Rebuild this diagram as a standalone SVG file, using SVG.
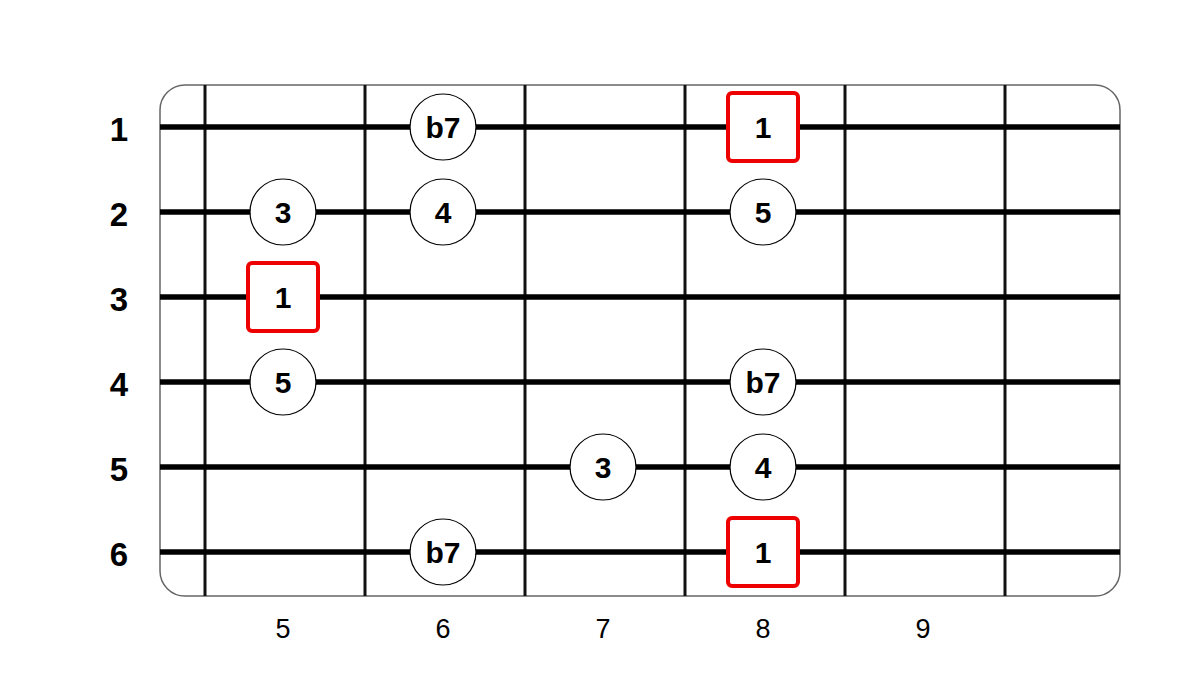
<svg xmlns="http://www.w3.org/2000/svg" width="1200" height="681" viewBox="0 0 1200 681">
<style>
.board{fill:#fff;stroke:#666;stroke-width:1.5}
.fret{stroke:#111;stroke-width:3}
.str{stroke:#000;stroke-width:5.5}
.note{fill:#fff;stroke:#000;stroke-width:1.2}
.root{fill:#fff;stroke:#e00;stroke-width:4}
.nt{font-family:"Liberation Sans",Arial,sans-serif;font-weight:bold;font-size:30px;text-anchor:middle;fill:#000}
.sl{font-family:"Liberation Sans",Arial,sans-serif;font-weight:bold;font-size:33px;text-anchor:middle;fill:#000}
.fl{font-family:"Liberation Sans",Arial,sans-serif;font-size:27px;text-anchor:middle;fill:#000}
</style>
<rect width="1200" height="681" fill="#fff"/>
<g id="board">
<rect class="board" x="160" y="85" width="960" height="511" rx="25"/>
</g>
<g id="frets">
<line class="fret" x1="205" y1="85" x2="205" y2="596"/>
<line class="fret" x1="365" y1="85" x2="365" y2="596"/>
<line class="fret" x1="525" y1="85" x2="525" y2="596"/>
<line class="fret" x1="685" y1="85" x2="685" y2="596"/>
<line class="fret" x1="845" y1="85" x2="845" y2="596"/>
<line class="fret" x1="1005" y1="85" x2="1005" y2="596"/>
</g>
<g id="strings">
<line class="str" x1="160" y1="127" x2="1120" y2="127"/>
<line class="str" x1="160" y1="212" x2="1120" y2="212"/>
<line class="str" x1="160" y1="297" x2="1120" y2="297"/>
<line class="str" x1="160" y1="382" x2="1120" y2="382"/>
<line class="str" x1="160" y1="467" x2="1120" y2="467"/>
<line class="str" x1="160" y1="552" x2="1120" y2="552"/>
</g>
<g id="string-labels">
<text class="sl" x="119" y="141">1</text>
<text class="sl" x="119" y="226">2</text>
<text class="sl" x="119" y="311">3</text>
<text class="sl" x="119" y="396">4</text>
<text class="sl" x="119" y="481">5</text>
<text class="sl" x="119" y="566">6</text>
</g>
<g id="fret-labels">
<text class="fl" x="283" y="638">5</text>
<text class="fl" x="443" y="638">6</text>
<text class="fl" x="603" y="638">7</text>
<text class="fl" x="763" y="638">8</text>
<text class="fl" x="923" y="638">9</text>
</g>
<g id="n1-b7"><circle class="note" cx="443" cy="127" r="33"/><text class="nt" x="443" y="138">b7</text></g>
<g id="n1-1"><rect class="root" x="728" y="93" width="70" height="68" rx="4"/><text class="nt" x="763" y="138">1</text></g>
<g id="n2-3"><circle class="note" cx="283" cy="212" r="33"/><text class="nt" x="283" y="223">3</text></g>
<g id="n2-4"><circle class="note" cx="443" cy="212" r="33"/><text class="nt" x="443" y="223">4</text></g>
<g id="n2-5"><circle class="note" cx="763" cy="212" r="33"/><text class="nt" x="763" y="223">5</text></g>
<g id="n3-1"><rect class="root" x="248" y="263" width="70" height="68" rx="4"/><text class="nt" x="283" y="308">1</text></g>
<g id="n4-5"><circle class="note" cx="283" cy="382" r="33"/><text class="nt" x="283" y="393">5</text></g>
<g id="n4-b7"><circle class="note" cx="763" cy="382" r="33"/><text class="nt" x="763" y="393">b7</text></g>
<g id="n5-3"><circle class="note" cx="603" cy="467" r="33"/><text class="nt" x="603" y="478">3</text></g>
<g id="n5-4"><circle class="note" cx="763" cy="467" r="33"/><text class="nt" x="763" y="478">4</text></g>
<g id="n6-b7"><circle class="note" cx="443" cy="552" r="33"/><text class="nt" x="443" y="563">b7</text></g>
<g id="n6-1"><rect class="root" x="728" y="518" width="70" height="68" rx="4"/><text class="nt" x="763" y="563">1</text></g>
</svg>
